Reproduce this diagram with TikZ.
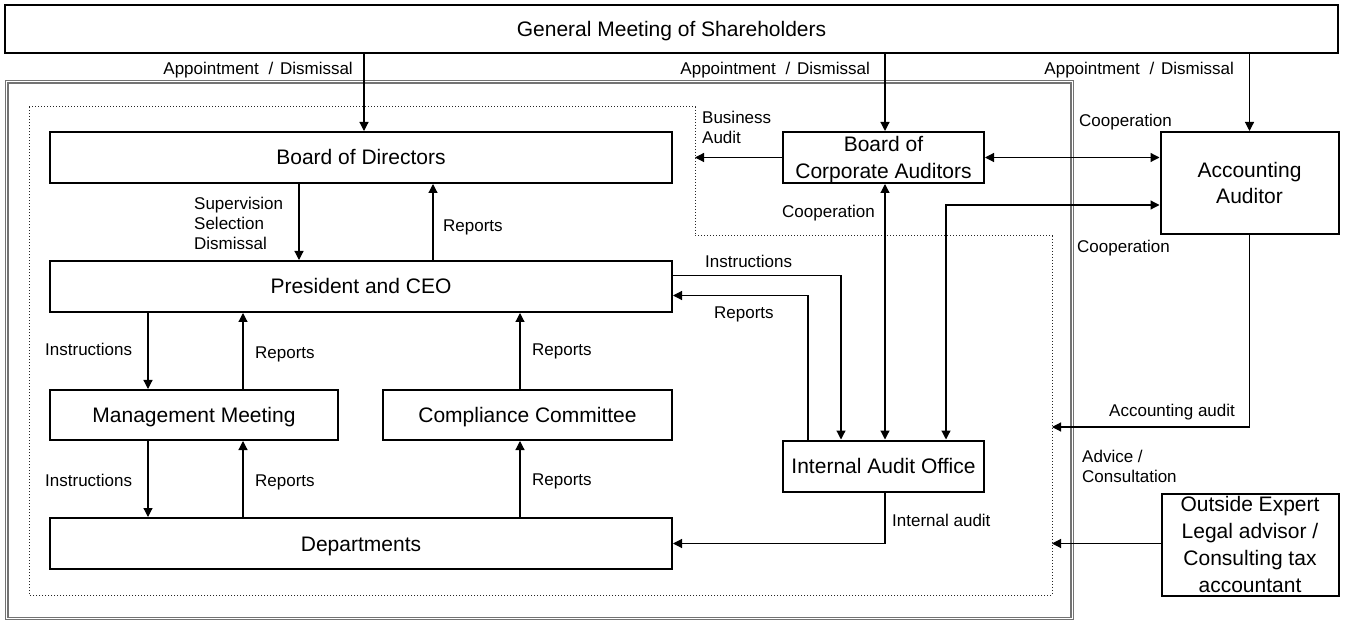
\documentclass[tikz,border=0pt]{standalone}
\usepackage{fontspec}
\setmainfont{Liberation Sans}
\usetikzlibrary{arrows.meta}
\newcommand\bxfont{\fontsize{21}{26.5}\selectfont}
\newcommand\lbfont{\fontsize{17}{20}\selectfont}
\newcommand\apdis{Appointment\hspace{5pt} / \hspace{2pt}Dismissal}
\begin{document}
\begin{tikzpicture}[x=1pt,y=-1pt,
  box/.style={draw, line width=2pt, inner sep=0pt, align=center, font=\bxfont},
  one/.style={text height=15pt, text depth=0pt},
  lbl/.style={inner sep=0pt, font=\lbfont, align=left, anchor=west},
  lone/.style={text height=12.2pt, text depth=0pt},
  arr/.style={line width=1.2pt, -{Triangle[length=9pt,width=9pt]}},
  darr/.style={line width=1.2pt, {Triangle[length=9pt,width=9pt]}-{Triangle[length=9pt,width=9pt]}},
  frameline/.style={draw=black!55, line width=1.3pt},
  dotline/.style={line width=1pt, dash pattern=on 1.4pt off 1.6pt, draw=black!85}
]
\useasboundingbox (0,0) rectangle (1350,620);
\fill[white] (0,0) rectangle (1350,620);

% outer double frame
\draw[frameline] (5.5,80.5) rectangle (1073.5,620);
\draw[frameline] (8,83) rectangle (1071,617.5);

% dotted boundary
\coordinate (d1) at (29,107);
\coordinate (d2) at (695,107);
\coordinate (d3) at (695,236);
\coordinate (d4) at (1052,236);
\coordinate (d5) at (1052,595);
\coordinate (d6) at (29,595);
\draw[dotline] (d1) -- (d2) -- (d3) -- (d4) -- (d5) -- (d6) -- cycle;
\coordinate (acc) at (1052,427);

% nodes
\node[box, one, minimum width=1333pt, minimum height=48pt] (gms) at (671.5,29) {General Meeting of Shareholders};
\node[box, one, minimum width=622pt, minimum height=51pt] (bod) at (361,157.5) {Board of Directors};
\node[box, one, minimum width=622pt, minimum height=51pt] (ceo) at (361,286.5) {President and CEO};
\node[box, one, minimum width=288pt, minimum height=50pt] (mm) at (194,415) {Management Meeting};
\node[box, one, minimum width=289pt, minimum height=50pt] (cc) at (527.5,415) {Compliance Committee};
\node[box, one, minimum width=622pt, minimum height=51pt] (dept) at (361,543.5) {Departments};
\node[box, text depth=0pt, minimum width=201pt, minimum height=51pt] (bca) at (883.5,157.5) {Board of\\Corporate Auditors};
\node[box, minimum width=178pt, minimum height=102pt] (aa) at (1249.5,183) {Accounting\\Auditor};
\node[box, one, minimum width=201pt, minimum height=51pt] (iao) at (883.5,466) {Internal Audit Office};
\node[box, minimum width=177pt, minimum height=102pt, font=\fontsize{21}{26.8}\selectfont] (oe) at (1250,544.5) {Outside Expert\\Legal advisor /\\Consulting tax\\accountant};

% connectors
\draw[arr] ([xshift=3pt]bod.north |- gms.south) -- ([xshift=3pt]bod.north);
\draw[arr] ([xshift=1.5pt]bca.north |- gms.south) -- ([xshift=1.5pt]bca.north);
\draw[arr] (aa.north |- gms.south) -- (aa.north);

\draw[arr] ([xshift=-62pt]bod.south) -- ([xshift=-62pt]ceo.north);
\draw[arr] ([xshift=72pt]ceo.north) -- ([xshift=72pt]bod.south);

\draw[arr] ([xshift=-46pt]mm.north |- ceo.south) -- ([xshift=-46pt]mm.north);
\draw[arr] ([xshift=49pt]mm.north) -- ([xshift=49pt]mm.north |- ceo.south);
\draw[arr] ([xshift=-7.5pt]cc.north) -- ([xshift=-7.5pt]cc.north |- ceo.south);

\draw[arr] ([xshift=-46pt]mm.south) -- ([xshift=-46pt]mm.south |- dept.north);
\draw[arr] ([xshift=49pt]mm.south |- dept.north) -- ([xshift=49pt]mm.south);
\draw[arr] ([xshift=-7.5pt]cc.south |- dept.north) -- ([xshift=-7.5pt]cc.south);

\draw[arr] (bca.west) -- (bca.west -| d2);
\draw[darr] (bca.east) -- (bca.east -| aa.west);
\draw[darr] ([xshift=1.5pt]iao.north) -- ([xshift=1.5pt]bca.south);
\draw[darr] ([xshift=62.5pt]iao.north) |- ([yshift=-22pt]aa.west);

\draw[arr] ([yshift=11pt]ceo.east) -| ([xshift=-42.5pt]iao.north);
\draw[arr] ([xshift=-75.5pt]iao.north) |- ([yshift=-9pt]ceo.east);
\draw[arr] ([xshift=1.5pt]iao.south) |- (dept.east);

\draw[arr] (aa.south) |- (acc);
\draw[arr] (oe.west |- dept.east) -- (d5 |- dept.east);

% labels
\node[lbl, lone, anchor=east] (l1) at (353,68) {\apdis};
\node[lbl, lone, anchor=east] (l2) at (870,68) {\apdis};
\node[lbl, lone, anchor=east] (l3) at (1234,68) {\apdis};
\node[lbl] (l4) at (194,223) {Supervision\\Selection\\Dismissal};
\node[lbl, lone] (l5) at (443,225) {Reports};
\node[lbl, lone] (l6) at (45,349) {Instructions};
\node[lbl, lone] (l7) at (255,352) {Reports};
\node[lbl, lone] (l8) at (532,349) {Reports};
\node[lbl, lone] (l9) at (45,480) {Instructions};
\node[lbl, lone] (l10) at (255,480) {Reports};
\node[lbl, lone] (l11) at (532,479) {Reports};
\node[lbl] (l12) at (702,127) {Business\\Audit};
\node[lbl, lone] (l13) at (1079,120) {Cooperation};
\node[lbl, lone] (l14) at (782,211) {Cooperation};
\node[lbl, lone] (l15) at (1077,246) {Cooperation};
\node[lbl, lone] (l16) at (705,261) {Instructions};
\node[lbl, lone] (l17) at (714,312) {Reports};
\node[lbl, lone] (l18) at (892,520) {Internal audit};
\node[lbl, lone] (l19) at (1109,410) {Accounting audit};
\node[lbl] (l20) at (1082,466) {Advice /\\Consultation};
\end{tikzpicture}
\end{document}
